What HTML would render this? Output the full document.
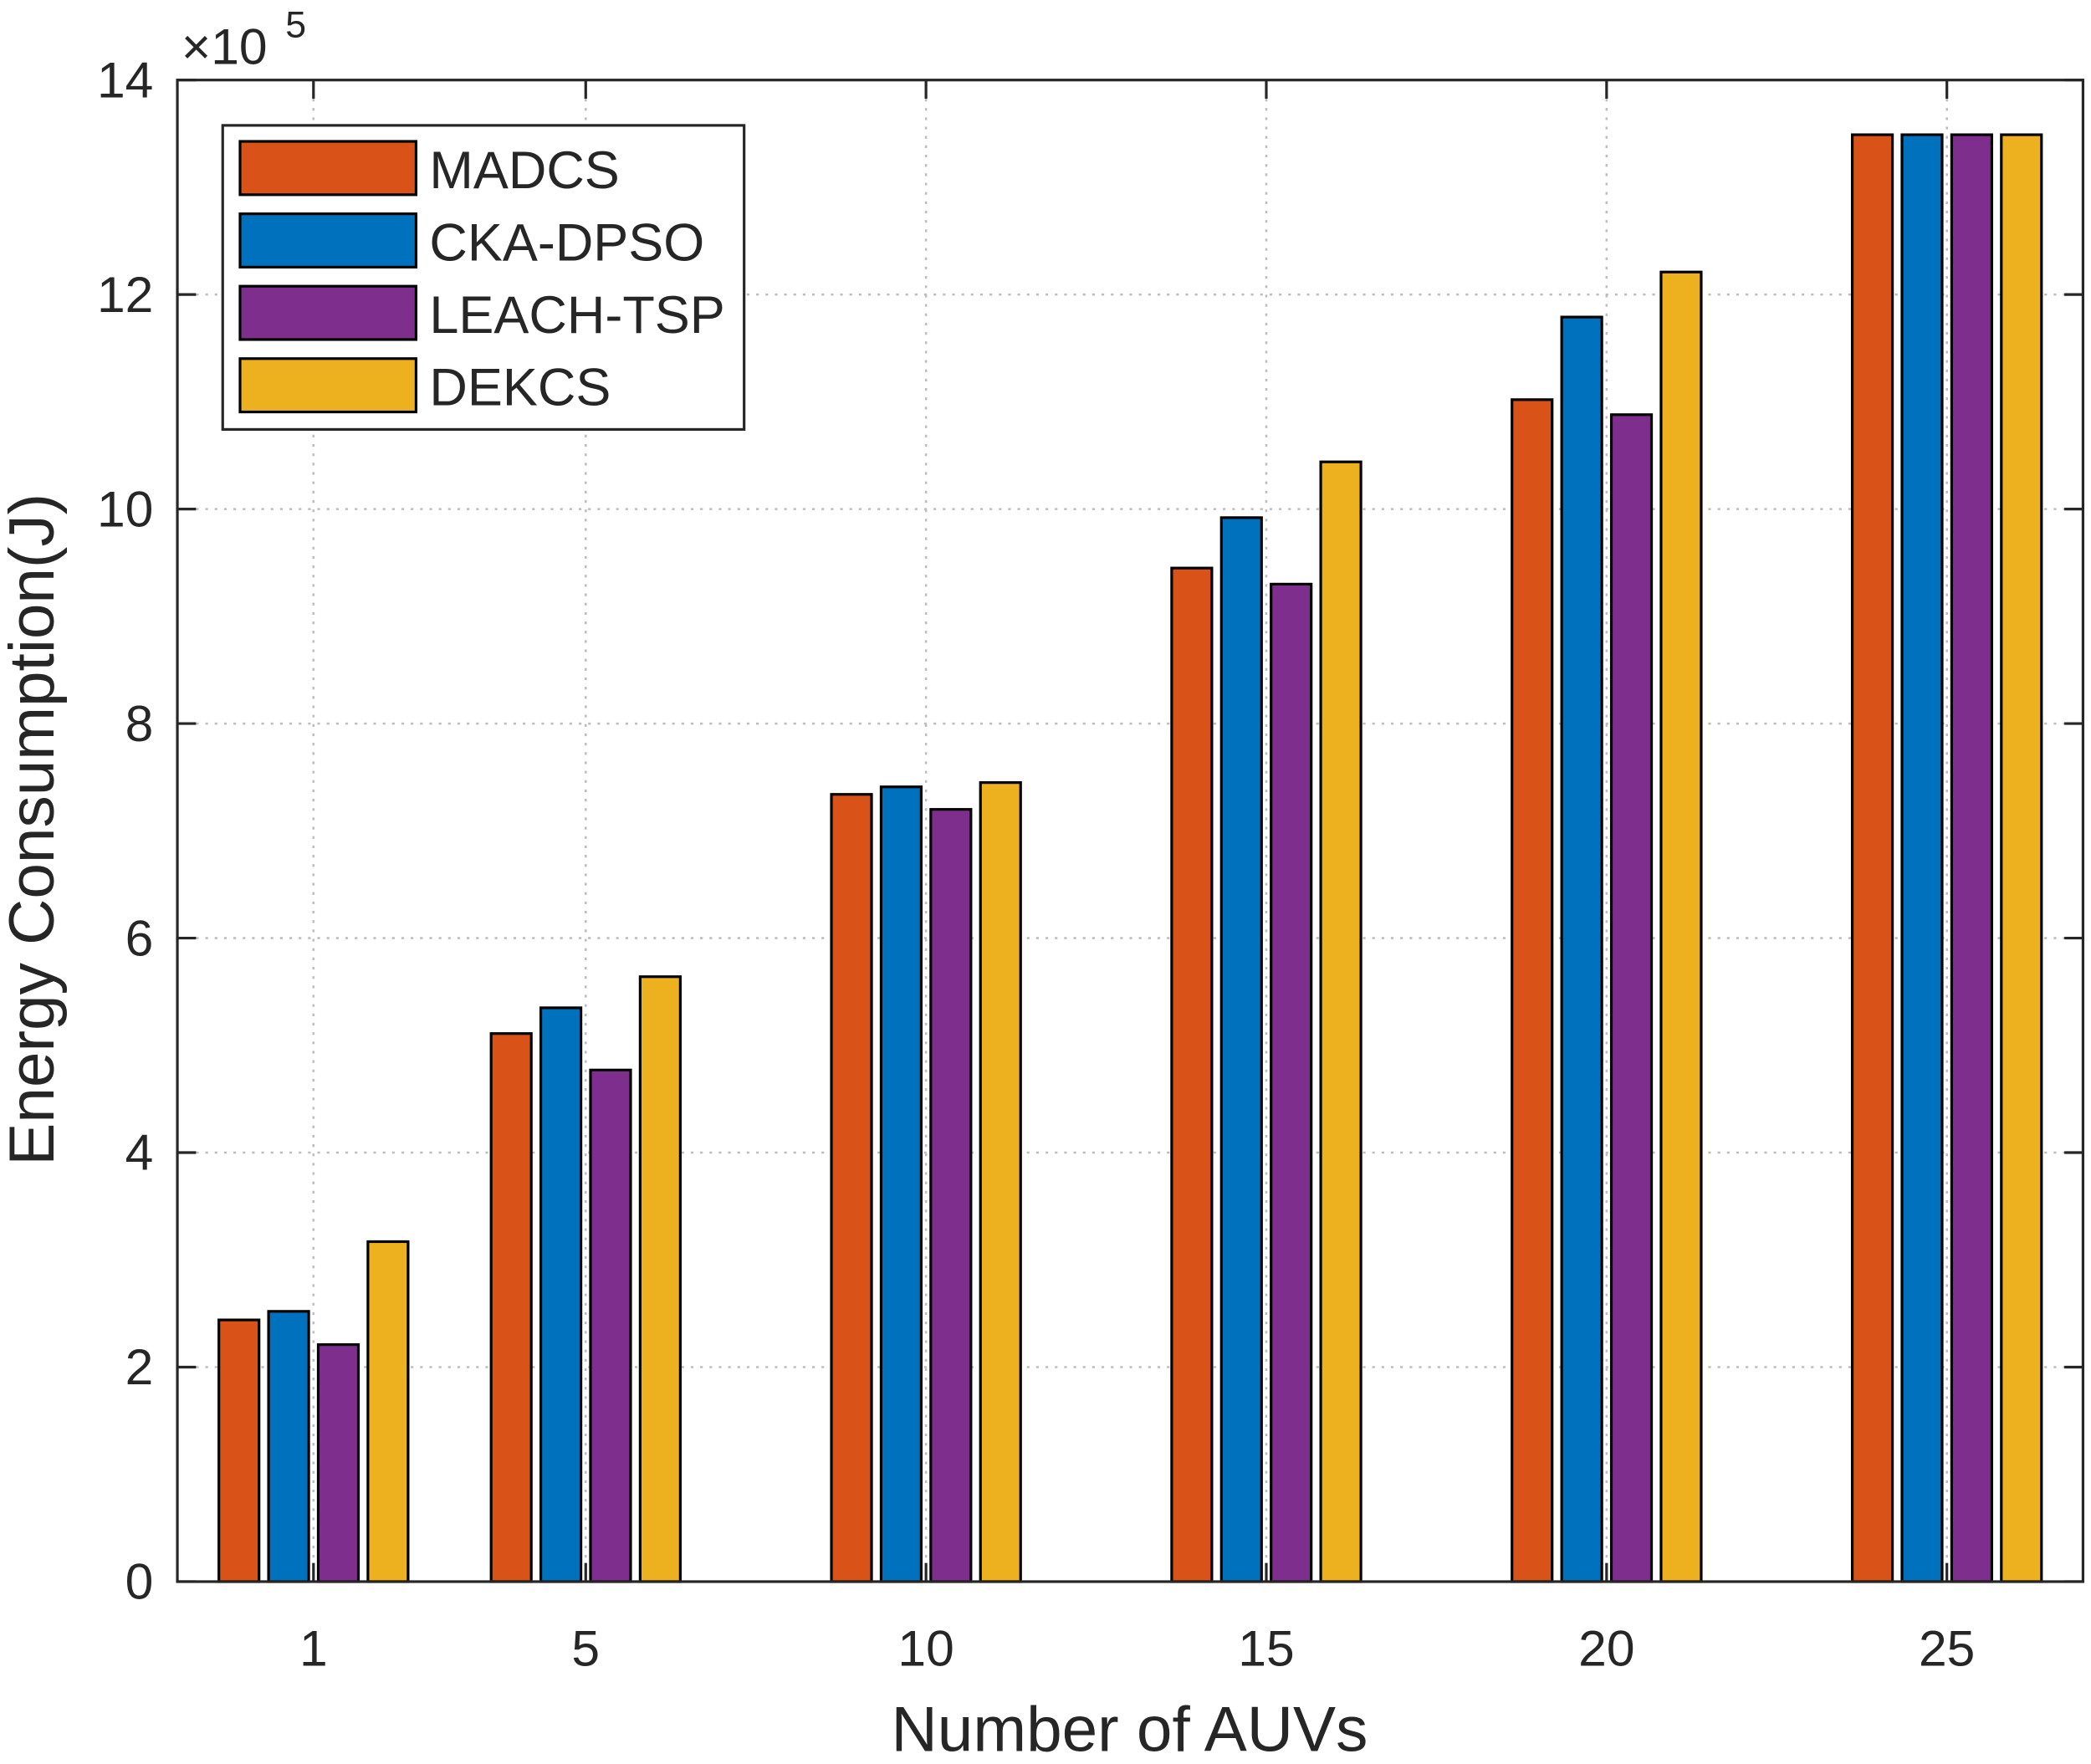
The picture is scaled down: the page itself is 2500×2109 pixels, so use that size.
<!DOCTYPE html>
<html><head><meta charset="utf-8"><style>
html,body{margin:0;padding:0;background:#fff}
svg text{font-family:"Liberation Sans",sans-serif;fill:#262626}
</style></head><body>
<svg id="chart" width="2500" height="2104" viewBox="0 0 1568 1319.6" xmlns="http://www.w3.org/2000/svg">
<rect width="1568" height="1320" fill="#fff"/>
<g id="grid"></g>
<g id="bars"></g>
<g id="axes"></g>
<g id="legend"></g>
</svg>
<script>
const categories = [1, 5, 10, 15, 20, 25];
const seriesNames = ["MADCS", "CKA-DPSO", "LEACH-TSP", "DEKCS"];
const madcs = [2.44, 5.11, 7.34, 9.45, 11.02, 13.49];
const ckadpso = [2.52, 5.35, 7.41, 9.92, 11.79, 13.49];
const leachtsp = [2.21, 4.77, 7.20, 9.30, 10.88, 13.49];
const dekcs = [3.17, 5.64, 7.45, 10.44, 12.21, 13.49];
const yTicks = [0, 2, 4, 6, 8, 10, 12, 14];
const xTickLabels = ["1", "5", "10", "15", "20", "25"];

const colors = ["#D95319", "#0072BD", "#7E2F8E", "#EDB120"];
const series = [madcs, ckadpso, leachtsp, dekcs];
const L = 133, R = 1562, T = 60, B = 1186;
const xMin = -1, xMax = 27, yMin = 0, yMax = 14;
const xs = v => L + (v - xMin) / (xMax - xMin) * (R - L);
const ys = v => B - (v - yMin) / (yMax - yMin) * (B - T);
const NS = "http://www.w3.org/2000/svg";
function mk(tag, attrs, parent, text) {
  const e = document.createElementNS(NS, tag);
  for (const k in attrs) e.setAttribute(k, attrs[k]);
  if (text !== undefined) e.textContent = text;
  parent.appendChild(e);
  return e;
}
const grid = document.getElementById('grid');
const bars = document.getElementById('bars');
const axes = document.getElementById('axes');
const legend = document.getElementById('legend');

yTicks.forEach(t => {
  if (t > yMin && t < yMax) {
    const g = mk('line', {x1: L, x2: R, y1: ys(t), y2: ys(t), stroke: '#bdbdbd', 'stroke-width': 1.6, 'stroke-dasharray': '2 5'}, grid);
    
    
  }
});
categories.forEach(c => {
  const g = mk('line', {x1: xs(c), x2: xs(c), y1: T, y2: B, stroke: '#bdbdbd', 'stroke-width': 1.6, 'stroke-dasharray': '2 5'}, grid);
  
  
});

const step = 0.73, bw = 0.59;
series.forEach((s, si) => {
  s.forEach((v, ci) => {
    const cx = categories[ci] + (si - 1.5) * step;
    const x0 = xs(cx - bw / 2), x1 = xs(cx + bw / 2);
    const r = mk('rect', {x: x0, y: ys(v), width: x1 - x0, height: ys(0) - ys(v), fill: colors[si], stroke: '#000', 'stroke-width': 2}, bars);
    
    
  });
});

const box = mk('rect', {x: L, y: T, width: R - L, height: B - T, fill: 'none', stroke: '#262626', 'stroke-width': 2}, axes);


yTicks.forEach(t => {
  mk('line', {x1: L, x2: L + 14, y1: ys(t), y2: ys(t), stroke: '#262626', 'stroke-width': 2}, axes);
  mk('line', {x1: R, x2: R - 14, y1: ys(t), y2: ys(t), stroke: '#262626', 'stroke-width': 2}, axes);
  const tl = mk('text', {x: L - 18, y: ys(t) + 13, 'text-anchor': 'end', 'font-size': 38}, axes, String(t));
  
  
});
categories.forEach((c, i) => {
  mk('line', {x1: xs(c), x2: xs(c), y1: B, y2: B - 14, stroke: '#262626', 'stroke-width': 2}, axes);
  mk('line', {x1: xs(c), x2: xs(c), y1: T, y2: T + 14, stroke: '#262626', 'stroke-width': 2}, axes);
  const tl = mk('text', {x: xs(c), y: B + 63, 'text-anchor': 'middle', 'font-size': 38}, axes, xTickLabels[i]);
  
  
});
const ex = mk('text', {x: 136, y: 48, 'font-size': 38}, axes, '×10');


mk('text', {x: 214, y: 28, 'font-size': 28}, axes, '5');
const xl = mk('text', {x: 847, y: 1313, 'text-anchor': 'middle', 'font-size': 48}, axes, 'Number of AUVs');


const yl = mk('text', {x: 0, y: 0, 'text-anchor': 'middle', 'font-size': 48, transform: 'translate(40,622) rotate(-90)'}, axes, 'Energy Consumption(J)');



const lb = mk('rect', {x: 167, y: 94, width: 391, height: 228, fill: '#fff', stroke: '#262626', 'stroke-width': 2}, legend);


seriesNames.forEach((n, i) => {
  const y0 = 106 + i * 54.3;
  const sw = mk('rect', {x: 180, y: y0, width: 132, height: 40, fill: colors[i], stroke: '#000', 'stroke-width': 2}, legend);
  
  
  const t = mk('text', {x: 322, y: y0 + 35, 'font-size': 39.5}, legend, n);
  
  
});
</script>
</body></html>
